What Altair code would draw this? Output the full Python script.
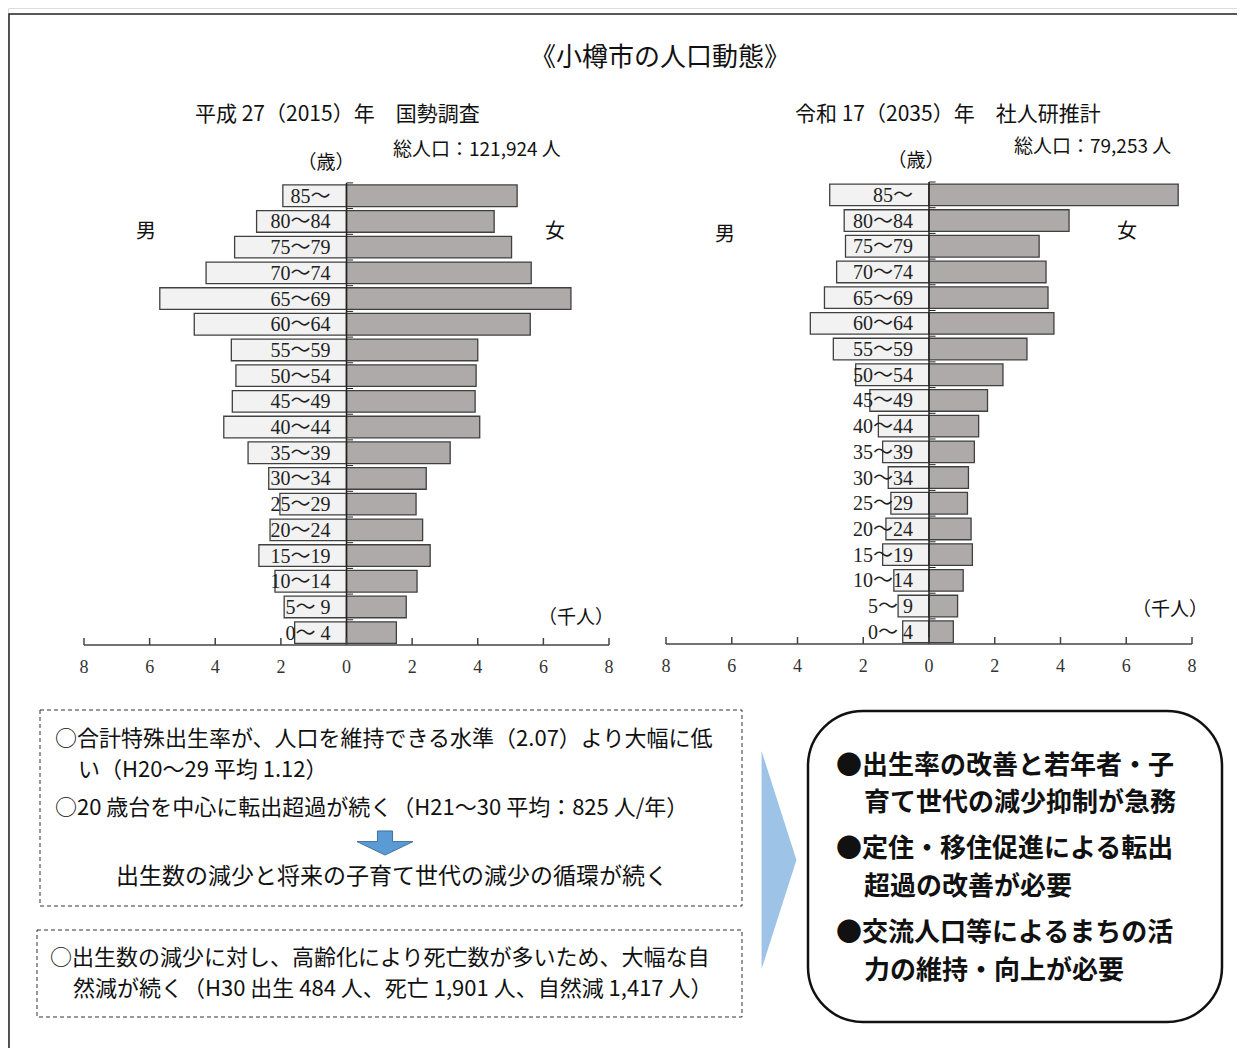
import altair as alt
import pandas as pd

# ---------------- data ----------------
ages = ["85～", "80～84", "75～79", "70～74", "65～69", "60～64", "55～59", "50～54",
        "45～49", "40～44", "35～39", "30～34", "25～29", "20～24", "15～19",
        "10～14", "5～ 9", "0～ 4"]

# thousands of people
male_2015 = [1.94, 2.74, 3.41, 4.28, 5.69, 4.64, 3.51, 3.37, 3.48, 3.74, 3.00,
             2.37, 2.03, 2.33, 2.67, 2.18, 1.90, 1.58]
female_2015 = [5.20, 4.50, 5.03, 5.63, 6.84, 5.60, 4.00, 3.95, 3.92, 4.06, 3.16,
               2.43, 2.12, 2.32, 2.55, 2.15, 1.82, 1.52]
male_2035 = [3.02, 2.58, 2.54, 2.81, 3.18, 3.61, 2.91, 2.23, 1.80, 1.54, 1.41,
             1.24, 1.16, 1.31, 1.41, 1.07, 0.94, 0.80]
female_2035 = [7.58, 4.26, 3.35, 3.56, 3.62, 3.80, 2.98, 2.25, 1.78, 1.51, 1.38,
               1.20, 1.17, 1.28, 1.32, 1.04, 0.87, 0.74]

tick_values = [-8, -6, -4, -2, 0, 2, 4, 6, 8]
tick_labels = ["8", "6", "4", "2", "0", "2", "4", "6", "8"]

title_main = "《小樽市の人口動態》"
sub_2015 = "平成 27（2015）年\u3000国勢調査"
sub_2035 = "令和 17（2035）年\u3000社人研推計"
total_2015 = "総人口：121,924 人"
total_2035 = "総人口：79,253 人"

box1_lines = ["○合計特殊出生率が、人口を維持できる水準（2.07）より大幅に低",
              "い（H20～29 平均 1.12）",
              "○20 歳台を中心に転出超過が続く（H21～30 平均：825 人/年）"]
box1_result = "出生数の減少と将来の子育て世代の減少の循環が続く"
box2_lines = ["○出生数の減少に対し、高齢化により死亡数が多いため、大幅な自",
              "然減が続く（H30 出生 484 人、死亡 1,901 人、自然減 1,417 人）"]
right_lines = ["●出生率の改善と若年者・子", "育て世代の減少抑制が急務",
               "●定住・移住促進による転出", "超過の改善が必要",
               "●交流人口等によるまちの活", "力の維持・向上が必要"]

SERIF = "Liberation Serif, Noto Sans CJK JP"
SANS = "Noto Sans CJK JP"
MALE_FILL = "#F2F2F2"
FEMALE_FILL = "#AEAAAA"
EDGE = "#404040"

one = pd.DataFrame({"k": [0]})


def txt(s, x, y, size, align="left", weight="normal", font=SANS, color="#111"):
    return alt.Chart(one).mark_text(
        text=s, align=align, baseline="middle", fontSize=size,
        fontWeight=weight, font=font, color=color
    ).encode(x=alt.value(x), y=alt.value(y))


def pyramid(male, female, x_range, y_range, axis_y):
    df = pd.DataFrame({"age": ages, "male": male, "female": female})
    tdf = pd.DataFrame({"t": tick_values, "lab": tick_labels})
    ddf = pd.DataFrame({"a": [tick_values[0]], "b": [tick_values[-1]]})
    xs = alt.Scale(domain=[tick_values[0], tick_values[-1]], range=x_range, nice=False, zero=False)
    ys = alt.Scale(domain=ages, range=y_range, paddingInner=0.16, paddingOuter=0.08)
    step = (y_range[1] - y_range[0]) / 18.0

    base = alt.Chart(df).transform_calculate(neg="-datum.male", zero="0", tk="0.2")
    male_bar = base.mark_bar(fill=MALE_FILL, stroke=EDGE, strokeWidth=1.3).encode(
        x=alt.X("neg:Q", scale=xs, axis=None),
        x2="zero:Q",
        y=alt.Y("age:N", scale=ys, axis=None),
    )
    female_bar = base.mark_bar(fill=FEMALE_FILL, stroke=EDGE, strokeWidth=1.3).encode(
        x=alt.X("female:Q", scale=xs, axis=None),
        x2="zero:Q",
        y=alt.Y("age:N", scale=ys, axis=None),
    )
    labels = base.mark_text(align="right", baseline="middle", dx=-16, dy=1,
                            font=SERIF, fontSize=20, color="#222").encode(
        x=alt.X("zero:Q", scale=xs, axis=None),
        y=alt.Y("age:N", scale=ys, axis=None),
        text="age:N",
    )
    band_ticks = base.mark_rule(color="#222", strokeWidth=1, yOffset=-step / 2).encode(
        x=alt.X("zero:Q", scale=xs, axis=None),
        x2="tk:Q",
        y=alt.Y("age:N", scale=ys, axis=None),
    )
    dbase = alt.Chart(ddf).transform_calculate(zero="0")
    center = dbase.mark_rule(color="#222", strokeWidth=1.5).encode(
        x=alt.X("zero:Q", scale=xs, axis=None),
        y=alt.value(y_range[0]), y2=alt.value(axis_y),
    )
    axis_line = dbase.mark_rule(color="#444", strokeWidth=1.5).encode(
        x=alt.X("a:Q", scale=xs, axis=None), x2="b:Q",
        y=alt.value(axis_y),
    )
    tick_marks = alt.Chart(tdf).mark_rule(color="#444", strokeWidth=1.5).encode(
        x=alt.X("t:Q", scale=xs, axis=None),
        y=alt.value(axis_y - 7), y2=alt.value(axis_y),
    )
    tick_text = alt.Chart(tdf).mark_text(font=SERIF, fontSize=18, color="#333",
                                         baseline="middle").encode(
        x=alt.X("t:Q", scale=xs, axis=None),
        y=alt.value(axis_y + 23),
        text="lab:N",
    )
    return alt.layer(male_bar, female_bar, band_ticks, center, labels,
                     axis_line, tick_marks, tick_text)


left = pyramid(male_2015, female_2015, [76, 601], [174.9, 637.5], 637)
right = pyramid(male_2035, female_2035, [658, 1184], [174.0, 636.6], 636)

# ---------------- decorations / texts ----------------
border = alt.Chart(one).mark_rect(fill="transparent", stroke="#222", strokeWidth=1.5).encode(
    x=alt.value(1), x2=alt.value(1260), y=alt.value(6), y2=alt.value(1070))

dash1 = alt.Chart(one).mark_rect(fill="transparent", stroke="#333", strokeWidth=1,
                                 strokeDash=[4, 3]).encode(
    x=alt.value(32), x2=alt.value(734), y=alt.value(702), y2=alt.value(898))
dash2 = alt.Chart(one).mark_rect(fill="transparent", stroke="#333", strokeWidth=1,
                                 strokeDash=[4, 3]).encode(
    x=alt.value(29), x2=alt.value(734), y=alt.value(922), y2=alt.value(1009))
rbox = alt.Chart(one).mark_rect(fill="white", stroke="#111", strokeWidth=2.5,
                                cornerRadius=55).encode(
    x=alt.value(800), x2=alt.value(1214), y=alt.value(703), y2=alt.value(1014))

tri_path = "M -0.16 -1 L 0.16 0 L -0.16 1 Z"
big_arrow = alt.Chart(one).mark_point(shape=tri_path, size=47524, filled=True,
                                      color="#9DC3E6", opacity=1, strokeWidth=0).encode(
    x=alt.value(771), y=alt.value(852))
arrow_path = ("M -0.27 -0.43 L 0.27 -0.43 L 0.27 -0.05 L 1 -0.05 L 0 0.43 "
              "L -1 -0.05 L -0.27 -0.05 Z")
down_arrow = alt.Chart(one).mark_point(shape=arrow_path, size=3136, filled=True,
                                       fill="#5B9BD5", stroke="#41719C", strokeWidth=1,
                                       opacity=1).encode(
    x=alt.value(377), y=alt.value(835))

texts = [
    txt(title_main, 652, 50, 26, align="center"),
    txt(sub_2015, 187, 107, 21),
    txt(total_2015, 385, 142, 19),
    txt("（歳）", 318, 155, 19, align="center"),
    txt("男", 138, 224, 20, align="center"),
    txt("女", 547, 224, 20, align="center"),
    txt("（千人）", 568, 610, 19, align="center"),
    txt(sub_2035, 787, 107, 21),
    txt(total_2035, 1006, 139, 19),
    txt("（歳）", 908, 153, 19, align="center"),
    txt("男", 717, 227, 20, align="center"),
    txt("女", 1119, 224, 20, align="center"),
    txt("（千人）", 1162, 602, 19, align="center"),
    txt(box1_lines[0], 47, 731, 22),
    txt(box1_lines[1], 70, 762, 22),
    txt(box1_lines[2], 47, 800, 22),
    txt(box1_result, 384, 869, 23, align="center"),
    txt(box2_lines[0], 42, 950, 22),
    txt(box2_lines[1], 65, 981, 22),
]
rx = [828, 856, 828, 856, 828, 856]
ry = [758, 795, 841, 879, 925, 963]
for s, x, y in zip(right_lines, rx, ry):
    texts.append(txt(s, x, y, 26, weight="bold"))

decor = alt.layer(border, dash1, dash2, big_arrow, rbox, down_arrow, *texts)

chart = alt.layer(left, right, decor).resolve_scale(
    x="independent", y="independent"
).properties(
    width=1229, height=1040, padding=0,
    autosize=alt.AutoSizeParams(type="none"),
).configure_view(stroke=None).configure(background="white")

chart.save("out.html", embed_options={"renderer": "svg", "actions": False})
